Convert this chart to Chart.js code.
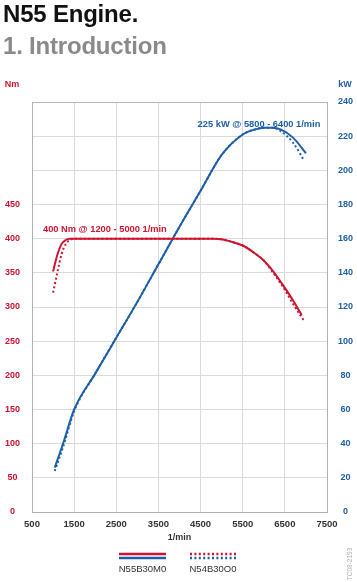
<!DOCTYPE html>
<html>
<head>
<meta charset="utf-8">
<script src="https://cdn.jsdelivr.net/npm/chart.js@4/dist/chart.umd.min.js"></script>
<style>
html,body{margin:0;padding:0;background:#fff;width:357px;height:582px;overflow:hidden;font-family:"Liberation Sans",Arial,sans-serif}
#wrap{position:relative;width:357px;height:582px}
#c{position:absolute;left:0;top:0}
.t{position:absolute;left:3px;font-weight:bold;font-size:24px;line-height:1;letter-spacing:-0.2px;white-space:nowrap}
#t1{top:2px;color:#111}
#t2{top:34px;color:#8a8a8a}
</style>
</head>
<body>
<div id="wrap">
<canvas id="c" width="357" height="582"></canvas>
<div class="t" id="t1">N55 Engine.</div>
<div class="t" id="t2">1. Introduction</div>
</div>
<script>
// ---- data ----
const rpmTickLabels = ['500','1500','2500','3500','4500','5500','6500','7500'];
const rpmTickValues = [500,1500,2500,3500,4500,5500,6500,7500];
const torqueGridValues = [0,50,100,150,200,250,300,350,400,450,500,550,600];
const torqueTickLabels = ['0','50','100','150','200','250','300','350','400','450','','',''];
const powerGridValues = [0,20,40,60,80,100,120,140,160,180,200,220,240];
const powerTickLabels = ['0','20','40','60','80','100','120','140','160','180','200','220','240'];

const rpmN55Torque = [1000,1100,1200,1300,1400,1600,2000,3000,4000,4800,5000,5200,5500,5800,6000,6200,6500,6700,6900];
const torqueN55    = [352,376,392,398,400,400,400,400,400,400,399,396,390,378,368,354,328,309,288];
const rpmN54Torque = [1000,1100,1200,1300,1400,1500,2000,3000,4000,4800,5000,5200,5500,5800,6000,6200,6500,6700,6950];
const torqueN54    = [321,350,377,392,398,400,400,400,400,400,399,396,390,378,368,352,325,304,280];

const rpmN55Power = [1040,1250,1500,2000,2500,3000,3500,4000,4500,5000,5500,5800,6000,6200,6400,6700,7000];
const powerN55    = [26,41,60,81,102,123,145,167,188,209,221,224,225,225,224,219,210];
const rpmN54Power = [1040,1250,1500,2000,2500,3000,3500,4000,4500,5000,5500,5800,6000,6200,6400,6700,6950];
const powerN54    = [24,39,59,81,102,123,145,167,188,209,221,224,225,225,223,216,206];

const torqueNote = '400 Nm @ 1200 - 5000 1/min';
const powerNote  = '225 kW @ 5800 - 6400 1/min';
const legendNames = ['N55B30M0','N54B30O0'];

// ---- styles ----
const RED = '#cf1330';
const BLUE = '#1e5fa8';
const FONT = '"Liberation Sans", Arial, sans-serif';

const pts = (xs, ys) => xs.map((x, i) => ({x: x, y: ys[i]}));

const extras = {
  id: 'extras',
  afterDraw(chart) {
    const {ctx, chartArea, scales} = chart;
    ctx.save();
    ctx.textBaseline = 'middle';
    ctx.textAlign = 'center';
    ctx.font = 'bold 9px ' + FONT;
    ctx.fillStyle = RED; ctx.fillText('Nm', 12, 85);
    ctx.fillStyle = BLUE; ctx.fillText('kW', 345, 85);
    ctx.fillStyle = '#333'; ctx.fillText('1/min', (chartArea.left + chartArea.right) / 2, 538);

    ctx.textAlign = 'left';
    ctx.font = 'bold 9.3px ' + FONT;
    ctx.fillStyle = RED;
    ctx.fillText(torqueNote, scales.x.getPixelForValue(760), scales.yT.getPixelForValue(413));
    ctx.fillStyle = BLUE;
    ctx.fillText(powerNote, scales.x.getPixelForValue(4430), scales.yP.getPixelForValue(227));

    // legend
    const drawSample = (x0, x1, dashed) => {
      ctx.lineWidth = 2.5;
      ctx.setLineDash(dashed ? [2, 2.4] : []);
      ctx.strokeStyle = RED;
      ctx.beginPath(); ctx.moveTo(x0, 554); ctx.lineTo(x1, 554); ctx.stroke();
      ctx.strokeStyle = BLUE;
      ctx.beginPath(); ctx.moveTo(x0, 558); ctx.lineTo(x1, 558); ctx.stroke();
    };
    drawSample(119, 166, false);
    drawSample(190, 236, true);
    ctx.setLineDash([]);
    ctx.textAlign = 'center';
    ctx.font = '9.5px ' + FONT;
    ctx.fillStyle = '#333';
    ctx.fillText(legendNames[0], 142.5, 569);
    ctx.fillText(legendNames[1], 213, 569);

    // watermark
    ctx.translate(350, 564);
    ctx.rotate(-Math.PI / 2);
    ctx.font = '6.5px ' + FONT;
    ctx.fillStyle = '#b0b0b0';
    ctx.fillText('TC08-2193', 0, 0);
    ctx.restore();
  }
};

new Chart(document.getElementById('c'), {
  type: 'line',
  data: {
    datasets: [
      {label: 'N55B30M0 torque', data: pts(rpmN55Torque, torqueN55), yAxisID: 'yT', borderColor: RED, borderWidth: 2, pointRadius: 0, cubicInterpolationMode: 'monotone', fill: false},
      {label: 'N54B30O0 torque', data: pts(rpmN54Torque, torqueN54), yAxisID: 'yT', borderColor: RED, borderWidth: 2, borderDash: [2, 2.4], pointRadius: 0, cubicInterpolationMode: 'monotone', fill: false},
      {label: 'N55B30M0 power', data: pts(rpmN55Power, powerN55), yAxisID: 'yP', borderColor: BLUE, borderWidth: 2, pointRadius: 0, cubicInterpolationMode: 'monotone', fill: false},
      {label: 'N54B30O0 power', data: pts(rpmN54Power, powerN54), yAxisID: 'yP', borderColor: BLUE, borderWidth: 2, borderDash: [2, 2.4], pointRadius: 0, cubicInterpolationMode: 'monotone', fill: false}
    ]
  },
  options: {
    responsive: false,
    animation: false,
    devicePixelRatio: 1,
    layout: {padding: {top: 102, left: 0, right: 0, bottom: 0}},
    plugins: {legend: {display: false}, tooltip: {enabled: false}},
    scales: {
      x: {
        type: 'linear', position: 'bottom', min: 500, max: 7500,
        afterBuildTicks: s => { s.ticks = rpmTickValues.map(v => ({value: v})); },
        afterFit: s => { s.height = 70; },
        grid: {color: '#dadada', drawTicks: false},
        border: {color: '#b0b0b0'},
        ticks: {padding: 7, color: '#333', font: {family: FONT, size: 9.5, weight: 'bold'}, autoSkip: false, maxRotation: 0,
          callback: (v, i) => rpmTickLabels[i]}
      },
      yT: {
        type: 'linear', position: 'left', min: 0, max: 600,
        afterBuildTicks: s => { s.ticks = torqueGridValues.map(v => ({value: v})); },
        afterFit: s => { s.width = 32; },
        grid: {color: ctx => ctx.tick && ctx.tick.value === 600 ? '#b8b8b8' : '#dadada', drawTicks: false},
        border: {color: '#b0b0b0'},
        ticks: {padding: 12, crossAlign: 'center', color: RED, font: {family: FONT, size: 9, weight: 'bold'}, autoSkip: false,
          callback: (v, i) => torqueTickLabels[i]}
      },
      yP: {
        type: 'linear', position: 'right', min: 0, max: 240,
        afterBuildTicks: s => { s.ticks = powerGridValues.map(v => ({value: v})); },
        afterFit: s => { s.width = 30; },
        grid: {display: false, drawTicks: false},
        border: {color: '#b0b0b0'},
        ticks: {padding: 11, crossAlign: 'center', color: BLUE, font: {family: FONT, size: 9, weight: 'bold'}, autoSkip: false,
          callback: (v, i) => powerTickLabels[i]}
      }
    }
  },
  plugins: [extras]
});
</script>
</body>
</html>
